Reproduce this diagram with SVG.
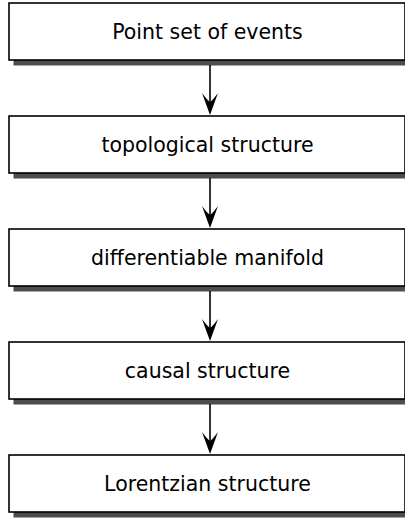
<svg xmlns="http://www.w3.org/2000/svg" width="405" height="519" viewBox="0 0 405 519">
<style>
.sh{fill:#4d4d4d}
.bx{fill:#fff;stroke:#000;stroke-width:1.6}
.tx{font-family:"DejaVu Sans",sans-serif;font-size:20.5px;fill:#000;text-anchor:middle}
.ln{stroke:#000;stroke-width:1.6;fill:none}
.hd{fill:#000}
</style>
<defs>
<path id="head" class="hd" d="M0,0 L-8,-22 Q-2,-14 0,-13 Q2,-14 8,-22 Z"/>
</defs>
<g id="node1"><rect class="sh" x="13.5" y="8.5" width="396" height="57"/><rect class="bx" x="9" y="3" width="396" height="57"/><text class="tx" x="207.5" y="38.5">Point set of events</text></g>
<g id="node2"><rect class="sh" x="13.5" y="121.5" width="396" height="57"/><rect class="bx" x="9" y="116" width="396" height="57"/><text class="tx" x="207.5" y="151.5">topological structure</text></g>
<g id="node3"><rect class="sh" x="13.5" y="234.5" width="396" height="57"/><rect class="bx" x="9" y="229" width="396" height="57"/><text class="tx" x="207.5" y="264.5">differentiable manifold</text></g>
<g id="node4"><rect class="sh" x="13.5" y="347.5" width="396" height="57"/><rect class="bx" x="9" y="342" width="396" height="57"/><text class="tx" x="207.5" y="377.5">causal structure</text></g>
<g id="node5"><rect class="sh" x="13.5" y="460.5" width="396" height="57"/><rect class="bx" x="9" y="455" width="396" height="57"/><text class="tx" x="207.5" y="490.5">Lorentzian structure</text></g>
<g id="connectors">
<line class="ln" x1="210" y1="65" x2="210" y2="104"/><use href="#head" x="210" y="115"/>
<line class="ln" x1="210" y1="178" x2="210" y2="217"/><use href="#head" x="210" y="228"/>
<line class="ln" x1="210" y1="291" x2="210" y2="330"/><use href="#head" x="210" y="341"/>
<line class="ln" x1="210" y1="404" x2="210" y2="443"/><use href="#head" x="210" y="454"/>
</g>
</svg>
